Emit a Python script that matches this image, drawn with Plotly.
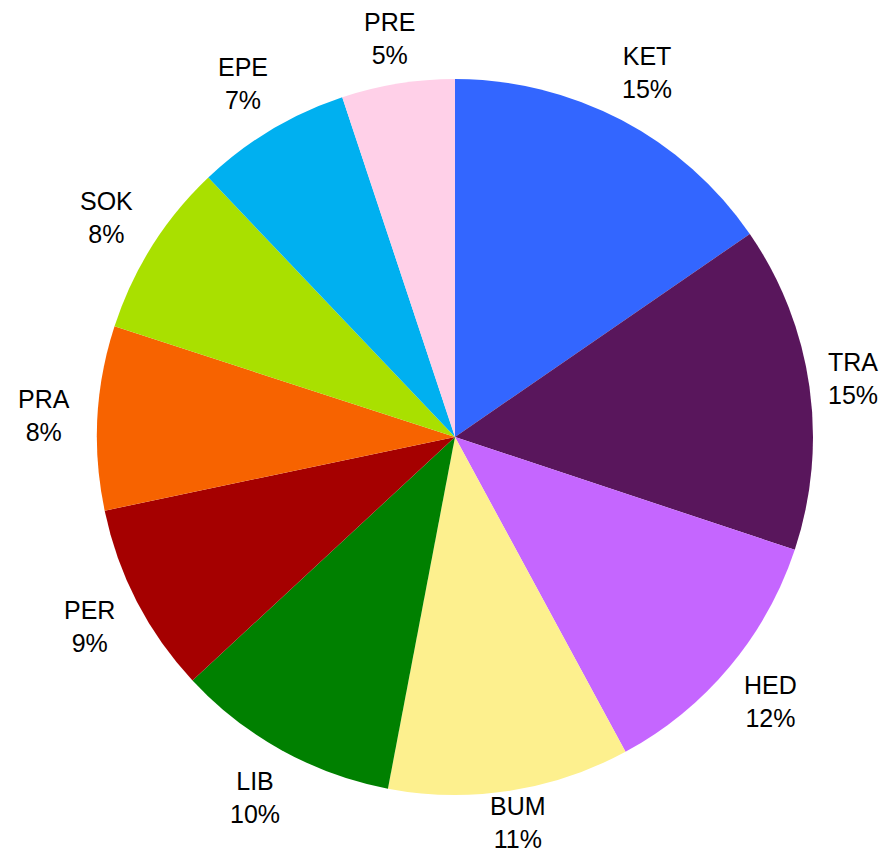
import math
import plotly.graph_objects as go

labels = ["KET", "TRA", "HED", "BUM", "LIB", "PER", "PRA", "SOK", "EPE", "PRE"]
values = [15.4, 14.7, 12.0, 10.9, 10.1, 8.6, 8.3, 7.9, 7.0, 5.1]
colors = ["#3366FF", "#59165C", "#C566FF", "#FDF08E", "#008000",
          "#A50000", "#F76300", "#A9E000", "#00B0F0", "#FFD0E8"]

W, H = 885, 842
cx, cy, r = 447, 429, 358
label_r = 412
font_size = 25

fig = go.Figure(go.Pie(
    labels=labels, values=values, sort=False, direction="clockwise", rotation=0,
    marker=dict(colors=colors, line=dict(width=0)),
    textinfo="none",
    domain=dict(x=[(cx - r) / W, (cx + r) / W], y=[(H - cy - r) / H, (H - cy + r) / H]),
    showlegend=False, hoverinfo="label+percent",
))

total = sum(values)
cum = 0.0
annotations = []
for lab, v in zip(labels, values):
    mid = (cum + v / 2) / total * 2 * math.pi
    cum += v
    px = cx + label_r * math.sin(mid)
    py = cy - label_r * math.cos(mid)
    px = min(px, W - 40)
    py = max(min(py, H - 28), 30)
    pct = int(v / total * 100 + 0.5)
    annotations.append(dict(
        x=px / W, y=1 - py / H, xref="paper", yref="paper",
        text=f"{lab}<br>{pct}%", showarrow=False,
        xanchor="center", yanchor="middle",
        font=dict(family="Liberation Sans, Arial", size=font_size, color="black"),
    ))

fig.update_layout(width=W, height=H, margin=dict(l=0, r=0, t=0, b=0),
                  paper_bgcolor="white", plot_bgcolor="white",
                  annotations=annotations)
fig.write_html("out.html")
